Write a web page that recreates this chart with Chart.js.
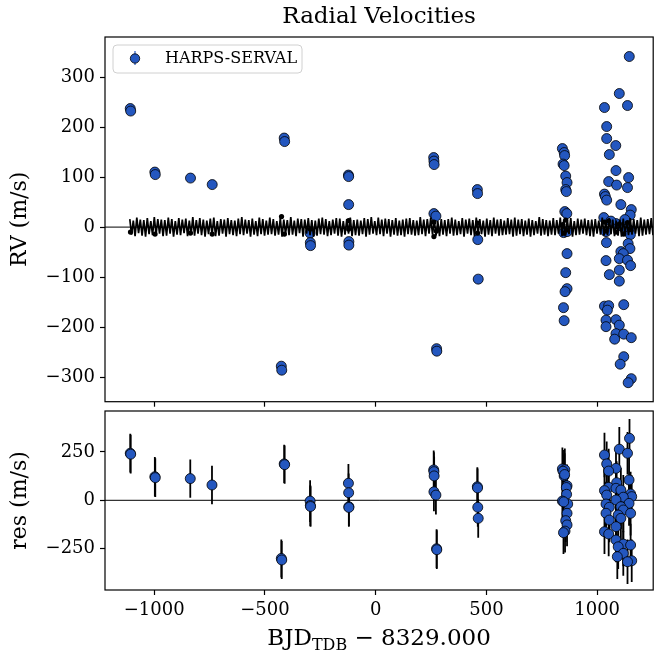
<!DOCTYPE html>
<html>
<head>
<meta charset="utf-8">
<script src="https://cdn.jsdelivr.net/npm/chart.js@4/dist/chart.umd.min.js"></script>
<style>
  body { margin: 0; background: #fff; }
  #wrap { position: relative; width: 659px; height: 657px; background: #fff; }
  canvas { position: absolute; left: 0; }
  #rvChart { top: 0; }
  #resChart { top: 405px; }
</style>
</head>
<body>
<div id="wrap">
  <canvas id="rvChart" width="659" height="410"></canvas>
  <canvas id="resChart" width="659" height="252"></canvas>
</div>
<script>
// ---------------- data ----------------
const xTicks = [-1000, -500, 0, 500, 1000];
const rvTicks = [-300, -200, -100, 0, 100, 200, 300];
const resTicks = [-250, 0, 250];

// HARPS-SERVAL radial velocities (BJD - 8329.000, m/s)
const rvTime = [
  -1108, -1106, -997, -995, -836, -738, -426, -424, -413, -411,
  -296, -295, -294, -123, -122, -122, -121, -121,
  262, 263, 264, 263, 272, 275, 276, 459, 460, 461, 463,
  843, 851, 853, 846, 851, 858, 864, 858, 861, 854, 863, 849, 864, 864, 858, 864, 855, 848, 851,
  1145, 1100, 1137, 1033, 1043, 1043, 1084, 1055, 1085, 1142, 1052, 1088, 1137, 1033, 1037, 1043,
  1107, 1154, 1149, 1030, 1085, 1115, 1040, 1145, 1062, 1125, 1150,
  1042, 1140, 1148, 1107, 1118, 1100, 1137, 1151, 1040, 1100, 1055, 1100, 1120, 1033, 1052, 1046,
  1040, 1040, 1085, 1100, 1085, 1120, 1079, 1154, 1120, 1104, 1154, 1140
];
const rvValue = [
  237, 232, 110, 105, 98, 85, -278, -286, 178, 171,
  -12, -31, -37, 104, 101, 45, -29, -36,
  139, 132, 125, 27, 22, -243, -248, 75, 67, -25, -104,
  157, 149, 143, 126, 123, 102, 89, 75, 71, 31, 27, -11, -9, -53, -91, -123, -129, -161, -187,
  341, 267, 243, 239, 201, 177, 163, 145, 113, 99, 91, 84, 79, 66, 61, 54,
  45, 35, 24, 19, 7, 1, -9, -6, 12, 15, -15,
  -31, -33, -43, -49, -53, -63, -66, -77, -67, -86, -95, -108, -155, -158, -157, -166,
  -186, -199, -185, -196, -213, -214, -224, -221, -259, -274, -303, -311
];

// residuals (m/s) with error bars
const resTime = [
  -1108, -1106, -997, -995, -837, -739, -413, -411, -426, -424,
  -296, -295, -294, -123, -122, -121, -121,
  262, 263, 264, 263, 272, 275, 276, 459, 460, 461, 463,
  843, 854, 846, 851, 853, 864, 861, 862, 843, 867, 849, 864, 858, 864, 855, 848,
  1146, 1100, 1137, 1033, 1043, 1085, 1052, 1144, 1088, 1052, 1085, 1107, 1033, 1151, 1043, 1156,
  1118, 1085, 1144, 1040, 1107, 1055, 1118, 1151, 1040, 1095, 1055, 1107, 1085, 1033, 1052, 1085,
  1118, 1151, 1095, 1118, 1091, 1156, 1137
];
const resValue = [
  243, 238, 122, 117, 112, 79, 188, 184, -300, -308,
  -4, -27, -32, 88, 39, -33, -37,
  157, 148, 126, 44, 27, -250, -255, 70, 64, -36, -93,
  162, 158, 150, 126, 133, 75, 66, 31, -4, -19, -8, -67, -105, -127, -159, -167,
  320, 264, 243, 234, 188, 165, 151, 105, 91, 67, 62, 53, 50, 33, 27, 19,
  16, 2, -16, -19, -33, -36, -50, -67, -67, -76, -102, -93, -136, -162, -174, -205,
  -226, -231, -240, -274, -291, -312, -317
];
const resError = [
  100, 100, 102, 100, 99, 99, 99, 99, 98, 98,
  108, 105, 105, 100, 100, 100, 100,
  100, 100, 100, 100, 100, 100, 100, 100, 100, 100, 100,
  110, 110, 110, 110, 110, 110, 110, 110, 110, 110, 110, 110, 110, 110, 110, 110,
  100, 115, 110, 115, 115, 110, 115, 115, 110, 115, 110, 115, 115, 115, 115, 110,
  115, 110, 115, 115, 115, 110, 115, 115, 115, 110, 115, 115, 110, 115, 115, 115,
  115, 110, 115, 115, 115, 110, 115
];

// model curve, sampled on a regular time grid
const modelStart = -1110;
const modelStep = 7.9;
const modelValue = [
  16,-15,13,-18,19,-12,15,-17,14,-19,18,-14,12,-16,20,-15,16,-13,15,-18,
  14,-17,19,-13,16,-19,12,-15,18,-16,15,-12,17,-18,13,-15,20,-17,14,-13,
  18,-16,15,-19,13,-14,17,-15,19,-18,12,-17,16,-13,15,-19,18,-14,14,-16,
  13,-18,17,-14,20,-16,15,-13,14,-19,17,-15,12,-18,19,-14,16,-17,13,-15,
  19,-14,16,-17,12,-15,18,-19,15,-13,14,-16,20,-15,13,-18,17,-12,16,-19,
  15,-13,18,-16,14,-19,13,-17,17,-14,19,-15,16,-18,12,-16,15,-13,18,-17,
  17,-19,12,-15,16,-13,19,-18,14,-16,15,-17,13,-14,18,-19,16,-15,20,-13,
  12,-16,19,-14,15,-18,17,-13,16,-19,14,-15,18,-17,13,-16,15,-19,17,-14,
  18,-15,14,-17,13,-16,20,-14,15,-18,16,-13,19,-15,14,-17,12,-18,16,-15,
  14,-18,16,-13,19,-17,15,-16,12,-14,18,-19,15,-13,17,-16,14,-18,19,-15,
  16,-14,13,-19,17,-15,14,-18,19,-13,15,-17,16,-16,13,-15,18,-14,15,-19,
  19,-17,15,-14,16,-18,13,-15,17,-19,14,-16,12,-13,20,-17,16,-15,14,-18,
  13,-15,18,-16,14,-13,19,-18,15,-17,16,-14,18,-19,12,-16,17,-15,15,-13,
  17,-16,14,-18,15,-19,16,-13,13,-15,19,-17,14,-16,18,-14,15,-18,13,-17,
  15,-19,17,-14,12,-16,18,-15,16,-13,14,-18,19,-17,15,-15,16,-14,18,-16
];

// model evaluated at the observation times (small black dots)
const modelDotTime = [-1107, -996, -836, -738, -425, -412, -295, -122, -122, 263, 263, 274, 460, 460,
  845, 850, 858, 862, 1033, 1040, 1052, 1085, 1100, 1120, 1137, 1148];
const modelDotValue = [-10, -14, -12, -14, 21, -14, -4, 13, -4, -19, 10, -8, 8, -12,
  5, -12, 14, -6, 10, -8, 12, -10, 6, -14, 9, -5];

// ---------------- helpers ----------------
const FONT = "'DejaVu Serif', serif";
const BLUE = '#2457bf';
Chart.defaults.font.family = FONT;
Chart.defaults.color = '#000';

const pts = (xs, ys) => xs.map((x, i) => ({ x: x, y: ys[i] }));
const minusFmt = v => (v < 0 ? '\u2212' + Math.abs(v) : String(v));

function axisOpts(min, max, ticks, showLabels) {
  return {
    type: 'linear',
    min: min,
    max: max,
    afterBuildTicks: s => { s.ticks = ticks.map(v => ({ value: v })); },
    ticks: {
      display: showLabels,
      font: { size: 18, family: FONT },
      color: '#000',
      padding: 5,
      maxRotation: 0,
      callback: minusFmt
    },
    grid: { display: true, drawOnChartArea: false, drawTicks: true, tickLength: 5, tickWidth: 1.2, tickColor: '#000' },
    border: { display: false }
  };
}

// fixed box sizes so the plot areas land where the reference has them
const fixY = s => { s.width = 105; s.paddingTop = 0; s.paddingBottom = 0; };
const fixX = h => s => { s.height = h; s.paddingLeft = 0; s.paddingRight = 0; };

const framePlugin = {
  id: 'frame',
  beforeDatasetsDraw(chart) {
    const { ctx, chartArea: a, scales } = chart;
    const y0 = scales.y.getPixelForValue(0);
    ctx.save();
    ctx.strokeStyle = '#000';
    ctx.lineWidth = 1;
    ctx.beginPath();
    ctx.moveTo(a.left, y0);
    ctx.lineTo(a.right, y0);
    ctx.stroke();
    ctx.restore();
  },
  afterDatasetsDraw(chart) {
    const { ctx, chartArea: a } = chart;
    ctx.save();
    ctx.strokeStyle = '#000';
    ctx.lineWidth = 1.2;
    ctx.strokeRect(a.left, a.top, a.right - a.left, a.bottom - a.top);
    ctx.restore();
  }
};

function yTitle(ctx, text, x, y) {
  ctx.save();
  ctx.translate(x, y);
  ctx.rotate(-Math.PI / 2);
  ctx.font = '22px ' + FONT;
  ctx.fillStyle = '#000';
  ctx.textAlign = 'center';
  ctx.textBaseline = 'middle';
  ctx.fillText(text, 0, 0);
  ctx.restore();
}

// ---------------- top panel: radial velocities ----------------
const rvTexts = {
  id: 'rvTexts',
  afterDraw(chart) {
    const { ctx, chartArea: a } = chart;
    ctx.save();
    ctx.fillStyle = '#000';
    ctx.font = '23px ' + FONT;
    ctx.textAlign = 'center';
    ctx.textBaseline = 'middle';
    ctx.fillText('Radial Velocities', (a.left + a.right) / 2, 17);
    ctx.restore();
    yTitle(ctx, 'RV (m/s)', 20, (a.top + a.bottom) / 2);

    // legend box
    const lx = 113, ly = 45, lw = 189, lh = 28;
    ctx.save();
    ctx.fillStyle = 'rgba(255,255,255,0.8)';
    ctx.strokeStyle = '#d0d0d0';
    ctx.lineWidth = 1;
    ctx.beginPath();
    ctx.roundRect(lx, ly, lw, lh, 4);
    ctx.fill();
    ctx.stroke();
    ctx.strokeStyle = BLUE;
    ctx.lineWidth = 1.2;
    ctx.beginPath();
    ctx.moveTo(135, 51);
    ctx.lineTo(135, 65);
    ctx.stroke();
    ctx.fillStyle = BLUE;
    ctx.strokeStyle = '#000';
    ctx.lineWidth = 0.8;
    ctx.beginPath();
    ctx.arc(135, 58.5, 4.7, 0, Math.PI * 2);
    ctx.fill();
    ctx.stroke();
    ctx.fillStyle = '#000';
    ctx.font = '16px ' + FONT;
    ctx.textAlign = 'left';
    ctx.textBaseline = 'middle';
    ctx.fillText(chart.data.datasets[0].label, 165, 59);
    ctx.restore();
  }
};

const xTop = axisOpts(-1222, 1253, xTicks, false);
xTop.afterFit = fixX(8.3);
const yTop = axisOpts(-349, 380, rvTicks, true);
yTop.afterFit = fixY;

new Chart(document.getElementById('rvChart'), {
  type: 'scatter',
  data: {
    datasets: [
      {
        label: 'HARPS-SERVAL',
        data: pts(rvTime, rvValue),
        backgroundColor: BLUE,
        borderColor: '#000',
        borderWidth: 0.8,
        pointRadius: 5,
        order: 3
      },
      {
        label: 'model',
        data: modelValue.map((v, i) => ({ x: modelStart + i * modelStep, y: v })),
        showLine: true,
        borderColor: '#000',
        borderWidth: 1.7,
        borderJoinStyle: 'bevel',
        pointRadius: 0,
        order: 2
      },
      {
        label: 'model at data',
        data: pts(modelDotTime, modelDotValue),
        backgroundColor: '#000',
        borderColor: '#000',
        borderWidth: 0,
        pointRadius: 2.6,
        order: 1
      }
    ]
  },
  options: {
    responsive: false,
    animation: false,
    events: [],
    layout: { padding: { left: 0, right: 1.5, top: 37, bottom: 0 } },
    plugins: { legend: { display: false }, tooltip: { enabled: false } },
    scales: { x: xTop, y: yTop }
  },
  plugins: [framePlugin, rvTexts]
});

// ---------------- bottom panel: residuals ----------------
const errorBars = {
  id: 'errorBars',
  beforeDatasetsDraw(chart) {
    const { ctx, chartArea: a, scales } = chart;
    ctx.save();
    ctx.beginPath();
    ctx.rect(a.left, a.top, a.right - a.left, a.bottom - a.top);
    ctx.clip();
    ctx.strokeStyle = '#000';
    ctx.lineWidth = 1.8;
    resTime.forEach((t, i) => {
      const x = scales.x.getPixelForValue(t);
      ctx.beginPath();
      ctx.moveTo(x, scales.y.getPixelForValue(resValue[i] - resError[i]));
      ctx.lineTo(x, scales.y.getPixelForValue(resValue[i] + resError[i]));
      ctx.stroke();
    });
    ctx.restore();
  }
};

const resTexts = {
  id: 'resTexts',
  afterDraw(chart) {
    const { ctx, chartArea: a } = chart;
    yTitle(ctx, 'res (m/s)', 20, (a.top + a.bottom) / 2);

    // x label: BJD_TDB - 8329.000
    ctx.save();
    ctx.fillStyle = '#000';
    ctx.textBaseline = 'alphabetic';
    ctx.textAlign = 'left';
    const big = '23px ' + FONT, small = '16px ' + FONT;
    ctx.font = big;
    const w1 = ctx.measureText('BJD').width;
    const w3 = ctx.measureText(' \u2212 8329.000').width;
    ctx.font = small;
    const w2 = ctx.measureText('TDB').width;
    let x = (a.left + a.right) / 2 - (w1 + w2 + w3) / 2;
    const base = 240;
    ctx.font = big;
    ctx.fillText('BJD', x, base);
    x += w1;
    ctx.font = small;
    ctx.fillText('TDB', x, base + 5);
    x += w2;
    ctx.font = big;
    ctx.fillText(' \u2212 8329.000', x, base);
    ctx.restore();
  }
};

const xBot = axisOpts(-1222, 1253, xTicks, true);
xBot.afterFit = fixX(67);
const yBot = axisOpts(-463, 461, resTicks, true);
yBot.afterFit = fixY;

new Chart(document.getElementById('resChart'), {
  type: 'scatter',
  data: {
    datasets: [
      {
        label: 'HARPS-SERVAL',
        data: pts(resTime, resValue),
        backgroundColor: BLUE,
        borderColor: '#000',
        borderWidth: 0.8,
        pointRadius: 5
      }
    ]
  },
  options: {
    responsive: false,
    animation: false,
    events: [],
    layout: { padding: { left: 0, right: 1.5, top: 6, bottom: 0 } },
    plugins: { legend: { display: false }, tooltip: { enabled: false } },
    scales: { x: xBot, y: yBot }
  },
  plugins: [framePlugin, errorBars, resTexts]
});
</script>
</body>
</html>
